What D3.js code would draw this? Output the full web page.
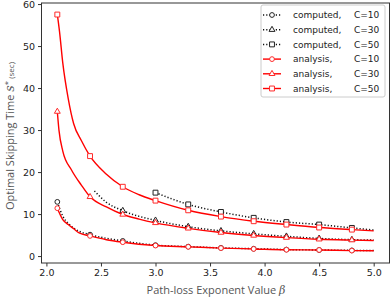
<!DOCTYPE html>
<html>
<head>
<meta charset="utf-8">
<script src="https://cdn.jsdelivr.net/npm/d3@7"></script>
<style>
  html, body { margin: 0; padding: 0; background: #fff; }
  svg { display: block; }
</style>
</head>
<body>
<div id="chart"></div>
<script>
// beta values and read-off curve values (analysis, red)
const analysisC10 = [[2.1, 11.4], [2.15, 8.7], [2.2, 7.5], [2.25, 6.5], [2.3, 5.5], [2.4, 4.8], [2.55, 3.9], [2.7, 3.3], [3.0, 2.5], [3.3, 2.2], [3.6, 1.9], [3.9, 1.7], [4.2, 1.5], [4.5, 1.45], [4.8, 1.3], [5.0, 1.25]];
const analysisC30 = [[2.1, 34.4], [2.115, 30], [2.15, 25], [2.23, 20.5], [2.32, 16.9], [2.4, 14.1], [2.55, 11.7], [2.7, 9.9], [2.85, 8.8], [3.0, 7.9], [3.3, 6.6], [3.6, 5.6], [3.9, 4.9], [4.2, 4.4], [4.5, 4.0], [4.8, 3.8], [5.0, 3.7]];
const analysisC50 = [[2.1, 57.5], [2.12, 53.5], [2.15, 46], [2.2, 37.5], [2.25, 31.5], [2.32, 27.5], [2.4, 23.8], [2.55, 19.5], [2.7, 16.5], [2.85, 14.6], [3.0, 13.2], [3.3, 10.9], [3.6, 9.4], [3.9, 8.3], [4.2, 7.5], [4.5, 6.8], [4.8, 6.3], [5.0, 6.0]];

// computed (black dotted)
const computedC10 = [[2.1, 12.9], [2.15, 9.5], [2.2, 7.8], [2.3, 5.9], [2.4, 5.1], [2.7, 3.6], [3.0, 2.6], [3.3, 2.25], [3.6, 1.95], [3.9, 1.75], [4.2, 1.55], [4.5, 1.45], [4.8, 1.35], [5.0, 1.3]];
const computedC30 = [[2.44, 15.5], [2.55, 12.8], [2.7, 10.8], [3.0, 8.5], [3.3, 7.0], [3.6, 6.0], [3.9, 5.3], [4.2, 4.7], [4.5, 4.2], [4.8, 3.9], [5.0, 3.8]];
const computedC50 = [[3.0, 15.1], [3.3, 12.3], [3.6, 10.5], [3.9, 9.1], [4.2, 8.1], [4.5, 7.5], [4.8, 6.7], [5.0, 6.2]];

// betas where markers are drawn
const markerBetas = [2.1, 2.4, 2.7, 3.0, 3.3, 3.6, 3.9, 4.2, 4.5, 4.8];

const xTicks = [2.0, 2.5, 3.0, 3.5, 4.0, 4.5, 5.0];
const yTicks = [0, 10, 20, 30, 40, 50, 60];

const series = [
    { label: "computed,", c: "C=10", data: computedC10, kind: "computed", shape: "circle" },
    { label: "computed,", c: "C=30", data: computedC30, kind: "computed", shape: "triangle" },
    { label: "computed,", c: "C=50", data: computedC50, kind: "computed", shape: "square" },
    { label: "analysis,", c: "C=10", data: analysisC10, kind: "analysis", shape: "circle" },
    { label: "analysis,", c: "C=30", data: analysisC30, kind: "analysis", shape: "triangle" },
    { label: "analysis,", c: "C=50", data: analysisC50, kind: "analysis", shape: "square" }
];

const width = 391, height = 299;
const margin = { top: 3, right: 1.5, bottom: 36, left: 41.5 };

const svg = d3.select("#chart").append("svg")
    .attr("width", width)
    .attr("height", height);

const x = d3.scaleLinear().domain([1.955, 5.145]).range([margin.left, width - margin.right]);
const y = d3.scaleLinear().domain([-1.65, 60.25]).range([height - margin.bottom, margin.top]);

const symbolFor = {
    circle: d3.symbol().type(d3.symbolCircle).size(18),
    triangle: d3.symbol().type(d3.symbolTriangle).size(15),
    square: d3.symbol().type(d3.symbolSquare).size(24)
};

const line = d3.line()
    .x((d) => x(d[0]))
    .y((d) => y(d[1]))
    .curve(d3.curveMonotoneX);

const plot = svg.append("g");

series.forEach((s) => {
    const colour = s.kind === "analysis" ? "#ff0000" : "#111";
    plot.append("path")
        .datum(s.data)
        .attr("fill", "none")
        .attr("stroke", colour)
        .attr("stroke-width", s.kind === "analysis" ? 1.4 : 1.5)
        .attr("stroke-dasharray", s.kind === "analysis" ? null : "1.2,2")
        .attr("d", line);

    const pts = s.data.filter((d) => markerBetas.some((b) => Math.abs(b - d[0]) < 1e-6));
    plot.append("g")
        .selectAll("path")
        .data(pts)
        .join("path")
        .attr("transform", (d) => `translate(${x(d[0])},${y(d[1])})`)
        .attr("d", symbolFor[s.shape])
        .attr("fill", "#fff")
        .attr("stroke", s.kind === "analysis" ? "#ff2a2a" : "#222")
        .attr("stroke-width", 1);
});

// axes
const xAxis = svg.append("g")
    .attr("transform", `translate(0, ${height - margin.bottom})`)
    .call(d3.axisBottom(x).tickValues(xTicks).tickFormat(d3.format(".1f")).tickSize(3.5).tickSizeOuter(0));

const yAxis = svg.append("g")
    .attr("transform", `translate(${margin.left}, 0)`)
    .call(d3.axisLeft(y).tickValues(yTicks).tickSize(3.5).tickSizeOuter(0));

[xAxis, yAxis].forEach((g) => {
    g.select(".domain").remove();
    g.selectAll(".tick line").attr("stroke", "#333");
    g.selectAll("text")
        .attr("fill", "#222")
        .attr("font-family", "DejaVu Sans, sans-serif")
        .attr("font-size", 9.5);
});

// frame
svg.append("rect")
    .attr("x", margin.left)
    .attr("y", margin.top)
    .attr("width", width - margin.right - margin.left)
    .attr("height", height - margin.bottom - margin.top)
    .attr("fill", "none")
    .attr("stroke", "#333")
    .attr("stroke-width", 1);

// axis labels
const xLabel = svg.append("text")
    .attr("x", 216)
    .attr("y", 294)
    .attr("text-anchor", "middle")
    .attr("fill", "#555")
    .attr("font-family", "Open Sans, sans-serif")
    .attr("font-size", 11);
xLabel.append("tspan").text("Path-loss Exponent Value  ");
xLabel.append("tspan")
    .attr("font-family", "DejaVu Serif, serif")
    .attr("font-style", "italic")
    .text("β");

const yLabel = svg.append("text")
    .attr("transform", `translate(14, 136) rotate(-90)`)
    .attr("text-anchor", "middle")
    .attr("fill", "#555")
    .attr("font-family", "Open Sans, sans-serif")
    .attr("font-size", 11);
yLabel.append("tspan").text("Optimal Skipping Time  ");
yLabel.append("tspan")
    .attr("font-family", "DejaVu Serif, serif")
    .attr("font-style", "italic")
    .attr("font-size", 12.5)
    .text("s");
yLabel.append("tspan")
    .attr("dy", -4)
    .attr("font-size", 8)
    .text("*");
yLabel.append("tspan")
    .attr("dy", 4)
    .attr("font-size", 8)
    .text("  (sec)");

// legend
const legend = svg.append("g").attr("transform", "translate(261, 5)");
legend.append("rect")
    .attr("width", 124)
    .attr("height", 92)
    .attr("rx", 2)
    .attr("fill", "#fff")
    .attr("fill-opacity", 0.85)
    .attr("stroke", "#ccc")
    .attr("stroke-width", 1);

const rows = legend.selectAll("g.row")
    .data(series)
    .join("g")
    .attr("class", "row")
    .attr("transform", (_, i) => `translate(0, ${10 + i * 14.7})`);

rows.append("line")
    .attr("x1", 2).attr("x2", 20)
    .attr("stroke", (d) => d.kind === "analysis" ? "#ff0000" : "#111")
    .attr("stroke-width", (d) => d.kind === "analysis" ? 1.4 : 1.5)
    .attr("stroke-dasharray", (d) => d.kind === "analysis" ? null : "1.2,2");

rows.append("path")
    .attr("transform", "translate(11, 0)")
    .attr("d", (d) => symbolFor[d.shape]())
    .attr("fill", "#fff")
    .attr("stroke", (d) => d.kind === "analysis" ? "#ff2a2a" : "#222")
    .attr("stroke-width", 1);

rows.append("text")
    .attr("x", 32)
    .attr("dy", "0.35em")
    .attr("fill", "#222")
    .attr("font-family", "DejaVu Sans, sans-serif")
    .attr("font-size", 9)
    .text((d) => d.label);

rows.append("text")
    .attr("x", 93)
    .attr("dy", "0.35em")
    .attr("fill", "#222")
    .attr("font-family", "DejaVu Sans, sans-serif")
    .attr("font-size", 9)
    .text((d) => d.c);
</script>
</body>
</html>
